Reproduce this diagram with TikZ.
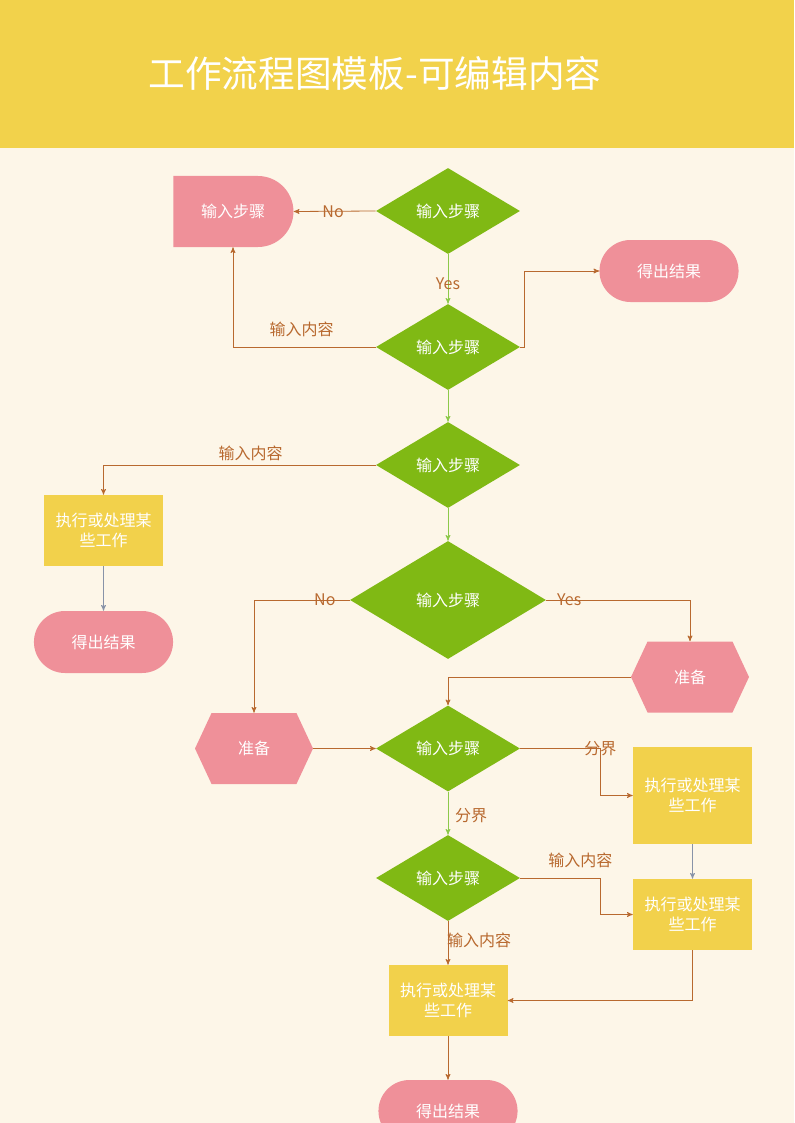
\documentclass[tikz,border=0pt]{standalone}
\usepackage{fontspec}
\setmainfont{Noto Sans CJK SC}
\usetikzlibrary{shapes.geometric, shapes.misc, shapes.symbols, arrows}
\definecolor{paper}{HTML}{FDF6E8}
\definecolor{banner}{HTML}{F2D24B}
\definecolor{leaf}{HTML}{80B914}
\definecolor{rose}{HTML}{EF9099}
\definecolor{mustard}{HTML}{F2D14B}
\definecolor{rust}{HTML}{B8692F}
\definecolor{sprout}{HTML}{8DC94A}
\definecolor{slate}{HTML}{8893A8}
\tikzset{
x=0.75pt, y=-0.75pt, % one unit is one pixel of the page, y runs down
>=stealth', % small arrow heads
every node/.style={font=\fontsize{12}{15}\selectfont}, % text size of all nodes
decision/.style={diamond, fill=leaf, text=white, inner sep=0pt, minimum width=108pt, minimum height=64.5pt}, % green questions
process/.style={rectangle, fill=mustard, text=white, align=center, minimum width=89.25pt, minimum height=53.25pt}, % yellow work boxes
terminal/.style={rounded rectangle, fill=rose, text=white, minimum width=111pt, minimum height=46.5pt}, % end points
delay/.style={rounded rectangle, rounded rectangle west arc=none, fill=rose, text=white, minimum width=96.75pt, minimum height=53.25pt},
prepare/.style={signal, signal to=east and west, signal pointer angle=130, fill=rose, text=white, minimum width=88.5pt, minimum height=53.25pt},
flow/.style={->, draw=rust, line width=0.6pt}, % ordinary connector
yesflow/.style={flow, draw=sprout}, % straight down the main line
quietflow/.style={flow, draw=slate},
lbl/.style={text=rust, inner sep=2pt}, % connector labels
}
\begin{document}
\begin{tikzpicture}
            \fill[paper] (0,0) rectangle (794,1123);
            \fill[banner] (0,0) rectangle (794,148);
            \useasboundingbox (0,0) rectangle (794,1123);
            \node[text=white, font=\fontsize{27.5}{32}\selectfont] (title) at (375,73) {工作流程图模板-可编辑内容};

            \node[decision] (d1) at (448,211) {输入步骤};
            \node[delay] (s1) at (233,211.5) {输入步骤};
            \node[decision] (d2) at (448,347) {输入步骤};
            \node[terminal] (t1) at (669,271) {得出结果};
            \node[decision] (d3) at (448,465) {输入步骤};
            \node[process] (p1) at (103.5,530.5) {执行或处理某\\些工作};
            \node[terminal] (t2) at (103.5,642) {得出结果};
            \node[decision, minimum width=147pt, minimum height=88.5pt] (d4) at (448,600) {输入步骤};
            \node[prepare] (h1) at (690,677) {准备};
            \node[prepare] (h2) at (254,748.5) {准备};
            \node[decision] (d5) at (448,748.5) {输入步骤};
            \node[process, minimum height=72.75pt] (p2) at (692.5,795.5) {执行或处理某\\些工作};
            \node[decision] (d6) at (448,878) {输入步骤};
            \node[process] (p3) at (692.5,914.5) {执行或处理某\\些工作};
            \node[process] (p4) at (448,1000.5) {执行或处理某\\些工作};
            \node[terminal] (t3) at (448,1111) {得出结果};

            \draw[flow] (d1.west) -- node[lbl, pos=0.52]{No} (s1.east);
            \draw[yesflow] (d1.south) -- node[lbl, pos=0.6]{Yes} (d2.north);
            \draw[flow] (d2.west) -| node[lbl, pos=0.26, above=5pt]{输入内容} (s1.south);
            \draw[flow] (d2.east) -- ++(4,0) |- (t1.west);
            \draw[yesflow] (d2.south) -- (d3.north);
            \draw[flow] (d3.west) -| node[lbl, pos=0.23, above=1pt]{输入内容} (p1.north);
            \draw[yesflow] (d3.south) -- (d4.north);
            \draw[quietflow] (p1.south) -- (t2.north);
            \draw[flow] (d4.west) -| node[lbl, pos=0.13]{No} (h2.north);
            \draw[flow] (d4.east) -| node[lbl, pos=0.08]{Yes} (h1.north);
            \draw[flow] (h1.west) -| (d5.north);
            \draw[flow] (h2.east) -- (d5.west);
            \draw[flow] (d5.east) -- ++(80,0) node[lbl]{分界} |- (p2.west);
            \draw[yesflow] (d5.south) -- node[lbl, pos=0.55, right=3pt]{分界} (d6.north);
            \draw[quietflow] (p2.south) -- (p3.north);
            \draw[flow] (d6.east) -- node[lbl, pos=0.75, above=5pt]{输入内容} ++(80,0) |- (p3.west);
            \draw[flow] (d6.south) -- node[lbl, pos=0.45, anchor=west, xshift=-3pt]{输入内容} (p4.north);
            \draw[flow] (p3.south) |- (p4.east);
            \draw[flow] (p4.south) -- (t3.north);
\end{tikzpicture}
\end{document}
